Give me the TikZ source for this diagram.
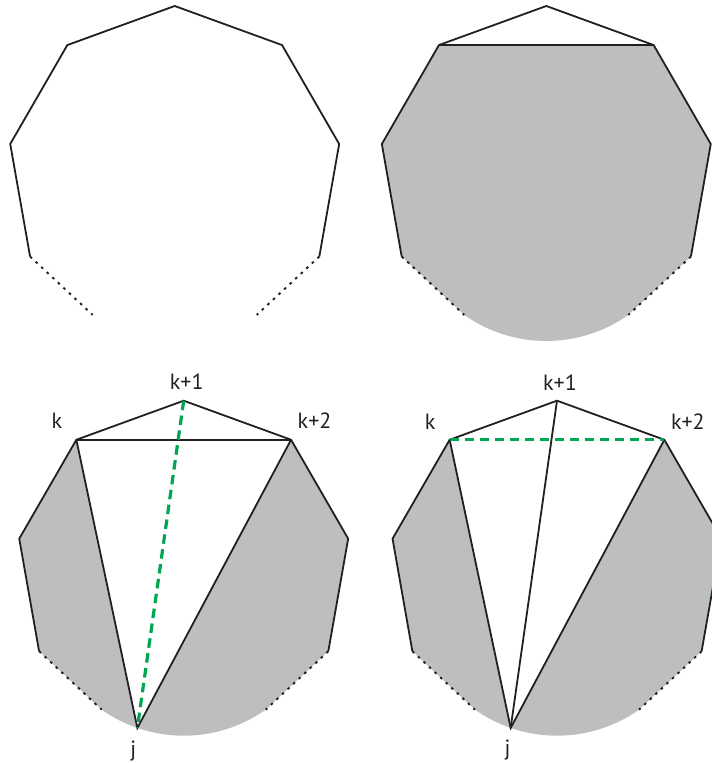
\documentclass[tikz,border=0pt]{standalone}
\usepackage{fontspec}
\setmainfont{PT Sans}
\usetikzlibrary{calc}
\definecolor{ink}{HTML}{231F20}
\definecolor{fillgray}{HTML}{BCBEC0}
\definecolor{dashgreen}{HTML}{00A651}
\tikzset{
  edge/.style={draw=ink, line width=1.8pt},
  dotedge/.style={draw=ink, line width=1.9pt, dash pattern=on 2.6pt off 5pt},
  greendash/.style={draw=dashgreen, line width=3.2pt, dash pattern=on 9.5pt off 5.5pt},
  shadefill/.style={fill=fillgray, draw=none},
  lbl/.style={text=ink, font=\fontsize{22}{26}\selectfont, inner sep=0pt}
}
\newcommand{\mkverts}[1]{%
  \coordinate (#1T) at (90:167);
  \coordinate (#1UL) at (130:167);
  \coordinate (#1UR) at (50:167);
  \coordinate (#1L) at (170:167);
  \coordinate (#1R) at (10:167);
  \coordinate (#1LL) at (210:167);
  \coordinate (#1LR) at (330:167);
  \coordinate (#1AC) at (0,-25.7);
  \coordinate (#1LD) at ($(#1AC)+(234.8:142.3)$);
  \coordinate (#1RD) at ($(#1AC)+(305.2:142.3)$);
  \coordinate (#1J) at ($(#1AC)+(251:142.3)$);
}
\begin{document}
\begin{tikzpicture}[x=1pt,y=1pt]
\useasboundingbox (0,0) rectangle (712,763);
\clip (0,0) rectangle (712,763);

% ---------- panel 1: top-left ----------
\begin{scope}[shift={(174.7,590)}]
  \mkverts{a}
\end{scope}
\draw[edge] (aLL) -- (aL) -- (aUL) -- (aT) -- (aUR) -- (aR) -- (aLR);
\draw[dotedge] (aLL) -- (aLD);
\draw[dotedge] (aLR) -- (aRD);

% ---------- panel 2: top-right ----------
\begin{scope}[shift={(546.3,590)}]
  \mkverts{b}
\end{scope}
\path[shadefill] (bUL) -- (bUR) -- (bR) -- (bLR) -- (bRD)
  arc[start angle=305.2, end angle=234.8, radius=142.3pt] -- (bLL) -- (bL) -- cycle;
\draw[edge] (bLL) -- (bL) -- (bUL) -- (bT) -- (bUR) -- (bR) -- (bLR);
\draw[edge] (bUL) -- (bUR);
\draw[dotedge] (bLL) -- (bLD);
\draw[dotedge] (bLR) -- (bRD);

% ---------- panel 3: bottom-left ----------
\begin{scope}[shift={(183.7,195.3)}]
  \mkverts{c}
\end{scope}
\path[shadefill] (cUL) -- (cL) -- (cLL) -- (cLD)
  arc[start angle=234.8, end angle=251, radius=142.3pt] -- cycle;
\path[shadefill] (cUR) -- (cR) -- (cLR) -- (cRD)
  arc[start angle=305.2, end angle=251, radius=142.3pt] -- cycle;
\draw[edge] (cLL) -- (cL) -- (cUL) -- (cT) -- (cUR) -- (cR) -- (cLR);
\draw[edge] (cUL) -- (cUR);
\draw[edge] (cUL) -- (cJ) -- (cUR);
\draw[dotedge] (cLL) -- (cLD);
\draw[dotedge] (cLR) -- (cRD);
\draw[greendash] (cT) -- (cJ);
\node[lbl] (ck1) at ($(cT)+(3,19)$) {k+1};
\node[lbl] (ck) at ($(cUL)+(-19.5,19)$) {k};
\node[lbl] (ck2) at ($(cUR)+(23.5,19)$) {k+2};
\node[lbl] (cj) at ($(cJ)+(-4,-23)$) {j};

% ---------- panel 4: bottom-right ----------
\begin{scope}[shift={(557,195.3)}]
  \mkverts{d}
\end{scope}
\path[shadefill] (dUL) -- (dL) -- (dLL) -- (dLD)
  arc[start angle=234.8, end angle=251, radius=142.3pt] -- cycle;
\path[shadefill] (dUR) -- (dR) -- (dLR) -- (dRD)
  arc[start angle=305.2, end angle=251, radius=142.3pt] -- cycle;
\draw[edge] (dLL) -- (dL) -- (dUL) -- (dT) -- (dUR) -- (dR) -- (dLR);
\draw[edge] (dUL) -- (dJ) -- (dUR);
\draw[edge] (dT) -- (dJ);
\draw[dotedge] (dLL) -- (dLD);
\draw[dotedge] (dLR) -- (dRD);
\draw[greendash] (dUL) -- (dUR);
\node[lbl] (dk1) at ($(dT)+(3,18)$) {k+1};
\node[lbl] (dk) at ($(dUL)+(-19.5,18)$) {k};
\node[lbl] (dk2) at ($(dUR)+(23.5,18)$) {k+2};
\node[lbl] (dj) at ($(dJ)+(-3,-22)$) {j};
\end{tikzpicture}
\end{document}
